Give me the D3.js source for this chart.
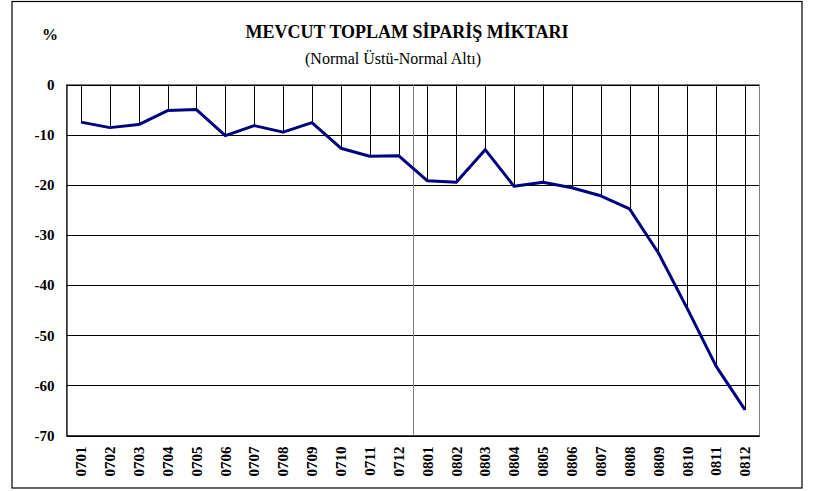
<!DOCTYPE html>
<html lang="tr">
<head>
    <meta charset="utf-8">
    <title>mevcut toplam siparis miktari</title>
    <script src="https://d3js.org/d3.v7.min.js"></script>
    <style>
    body{
        margin: 0;
        background-color: #ffffff;
    }
    svg{
        display: block;
        font-family: "Liberation Serif", "Times New Roman", serif;
    }
    </style>
</head>
<body>
<script>
    // donemler (yymm)
    const months = ["0701","0702","0703","0704","0705","0706","0707","0708","0709","0710","0711","0712",
                    "0801","0802","0803","0804","0805","0806","0807","0808","0809","0810","0811","0812"]
    // normal ustu - normal alti (%)
    const values = [-7.5, -8.6, -8.0, -5.2, -5.0, -10.2, -8.2, -9.5, -7.6, -12.7, -14.3, -14.2,
                    -19.2, -19.5, -13.0, -20.3, -19.5, -20.6, -22.2, -24.8, -33.6, -44.7, -56.2, -64.9]
    const yTicks = [0, -10, -20, -30, -40, -50, -60, -70]
    const titleText = "MEVCUT TOPLAM SİPARİŞ MİKTARI"
    const subTitleText = "(Normal Üstü-Normal Altı)"

    const W = 817, H = 491
    const serif = "'Liberation Serif', 'Times New Roman', serif"
    const plot = {left: 66.5, top: 84.5, right: 759.5, bottom: 435.5}

    let data = months.map((m, i) => { return {month: m, value: values[i]} })

    let svg = d3.select("body").append("svg")
        .attr("width", W)
        .attr("height", H)

    // outer frame
    svg.append("rect")
        .attr("x", 12).attr("y", 1.5)
        .attr("width", 790).attr("height", 486.5)
        .attr("fill", "none")
        .attr("stroke", "#000")
        .attr("stroke-width", 1.2)

    let xScale = d3.scaleBand()
        .domain(months)
        .range([plot.left, plot.right])

    let yScale = d3.scaleLinear()
        .domain([0, -70])
        .range([plot.top, plot.bottom])

    const cx = d => xScale(d) + xScale.bandwidth() / 2

    // gridlines
    svg.append("g")
        .selectAll("line")
        .data(yTicks)
        .join("line")
        .attr("x1", plot.left).attr("x2", plot.right)
        .attr("y1", d => Math.round(yScale(d)) + 0.5)
        .attr("y2", d => Math.round(yScale(d)) + 0.5)
        .attr("stroke", "#000")
        .attr("stroke-width", 1)

    // plot border
    svg.append("rect")
        .attr("x", plot.left).attr("y", plot.top)
        .attr("width", plot.right - plot.left)
        .attr("height", plot.bottom - plot.top)
        .attr("fill", "none")
        .attr("stroke", "#808080")
        .attr("stroke-width", 1)

    // year separator
    let sep = xScale("0801")
    svg.append("line")
        .attr("x1", Math.round(sep) + 0.5).attr("x2", Math.round(sep) + 0.5)
        .attr("y1", plot.top).attr("y2", plot.bottom)
        .attr("stroke", "#808080")
        .attr("stroke-width", 1)

    // drop lines from 0 to the value
    svg.append("g")
        .selectAll("line")
        .data(data)
        .join("line")
        .attr("x1", d => Math.round(cx(d.month)) + 0.5)
        .attr("x2", d => Math.round(cx(d.month)) + 0.5)
        .attr("y1", yScale(0))
        .attr("y2", d => yScale(d.value))
        .attr("stroke", "#000")
        .attr("stroke-width", 1)

    // axes
    const xAxis = d3.axisBottom(xScale).tickSize(0).tickPadding(0)
    const yAxis = d3.axisLeft(yScale).tickValues(yTicks).tickSize(0).tickPadding(12)
        .tickFormat(d => String(d))   // plain hyphen, not the unicode minus

    let gx = svg.append("g")
        .attr("transform", "translate(0," + plot.bottom + ")")
        .call(xAxis)
        .attr("font-family", serif)
        .attr("font-size", 15)
        .attr("font-weight", "bold")
    gx.select(".domain").attr("stroke", "#000").attr("stroke-width", 1.2)
    gx.selectAll("text")
        .attr("transform", "rotate(-90)")
        .attr("x", -11)
        .attr("y", 0)
        .attr("dy", "0.35em")
        .attr("text-anchor", "end")
        .attr("fill", "#000")

    let gy = svg.append("g")
        .attr("transform", "translate(" + plot.left + ",0)")
        .call(yAxis)
        .attr("font-family", serif)
        .attr("font-size", 15)
        .attr("font-weight", "bold")
    gy.select(".domain").attr("stroke", "#000").attr("stroke-width", 1.2)
    gy.selectAll("text").attr("fill", "#000")

    // data line
    let line = d3.line()
        .x(d => cx(d.month))
        .y(d => yScale(d.value))

    svg.append("path")
        .datum(data)
        .attr("d", line)
        .attr("fill", "none")
        .attr("stroke", "#000080")
        .attr("stroke-width", 3)
        .attr("stroke-linejoin", "round")

    // titles
    svg.append("text")
        .attr("x", 407).attr("y", 38)
        .attr("text-anchor", "middle")
        .attr("font-size", 18)
        .attr("font-weight", "bold")
        .text(titleText)

    svg.append("text")
        .attr("x", 393).attr("y", 64)
        .attr("text-anchor", "middle")
        .attr("font-size", 16)
        .text(subTitleText)

    svg.append("text")
        .attr("x", 50).attr("y", 40)
        .attr("text-anchor", "middle")
        .attr("font-size", 16)
        .attr("font-weight", "bold")
        .text("%")
</script>
</body>
</html>
